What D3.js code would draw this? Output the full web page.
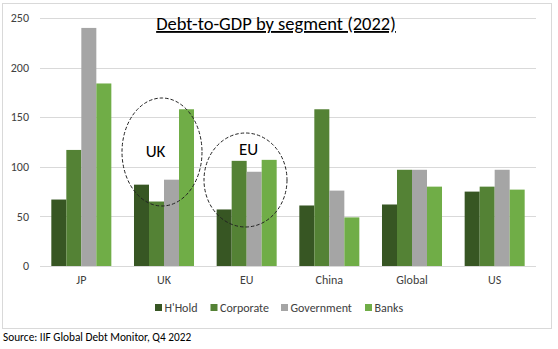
<!DOCTYPE html>
<html>
<head>
<meta charset="utf-8">
<script src="https://cdn.jsdelivr.net/npm/d3@7"></script>
<style>
  body { margin: 0; background: #fff; }
  svg { display: block; font-family: Calibri, Carlito, Lato, "Open Sans", sans-serif; }
</style>
</head>
<body>
<svg id="chart" width="558" height="349"></svg>
<script>
// debt-to-GDP ratios, % of GDP
const regions = ["JP", "UK", "EU", "China", "Global", "US"];
const segments = ["H'Hold", "Corporate", "Government", "Banks"];
const hhold = [67, 82, 57, 61, 62, 75];
const corporate = [117, 65, 106, 158, 97, 80];
const government = [240, 87, 95, 76, 97, 97];
const banks = [184, 158, 107, 49, 80, 77];
const yTicks = [0, 50, 100, 150, 200, 250];
const colors = ["#375623", "#548235", "#a5a5a5", "#70ad47"];

const series = [hhold, corporate, government, banks];

const svg = d3.select("#chart");

// outer frame
svg.append("rect")
  .attr("x", 2.5).attr("y", 3.5)
  .attr("width", 549).attr("height", 325)
  .attr("fill", "#fff")
  .attr("stroke", "#d9d9d9");

const plotLeft = 40, plotRight = 536, plotTop = 18, plotBottom = 266;

const x0 = d3.scaleBand().domain(regions).range([plotLeft, plotRight]);
const gap = x0.bandwidth() * 0.137;
const x1 = d3.scaleBand().domain(d3.range(4)).range([gap, x0.bandwidth() - gap]);
const y = d3.scaleLinear().domain([0, 250]).range([plotBottom, plotTop]);

// gridlines
svg.append("g")
  .selectAll("line")
  .data(yTicks)
  .join("line")
    .attr("x1", plotLeft).attr("x2", plotRight)
    .attr("y1", d => Math.round(y(d)) + 0.5)
    .attr("y2", d => Math.round(y(d)) + 0.5)
    .attr("stroke", "#d9d9d9")
    .attr("stroke-width", 1);

// y labels
svg.append("g")
  .selectAll("text")
  .data(yTicks)
  .join("text")
    .attr("x", 29)
    .attr("y", d => y(d))
    .attr("dy", "0.35em")
    .attr("text-anchor", "end")
    .attr("font-size", 12)
    .attr("fill", "#404040")
    .text(d => d);

// bars
const groups = svg.append("g")
  .selectAll("g")
  .data(regions)
  .join("g")
    .attr("transform", d => `translate(${x0(d)},0)`);

groups.selectAll("rect")
  .data((d, i) => series.map((s, k) => ({ k, v: s[i] })))
  .join("rect")
    .attr("x", d => x1(d.k))
    .attr("width", x1.bandwidth())
    .attr("y", d => y(d.v))
    .attr("height", d => y(0) - y(d.v))
    .attr("fill", d => colors[d.k]);

// category labels
svg.append("g")
  .selectAll("text")
  .data(regions)
  .join("text")
    .attr("x", d => x0(d) + x0.bandwidth() / 2)
    .attr("y", 284)
    .attr("text-anchor", "middle")
    .attr("font-size", 12)
    .attr("fill", "#404040")
    .text(d => d);

// title
svg.append("text")
  .attr("x", 276)
  .attr("y", 30)
  .attr("text-anchor", "middle")
  .attr("font-size", 18.5)
  .attr("text-decoration", "underline")
  .attr("fill", "#000")
  .text("Debt-to-GDP by segment (2022)");

// callout ellipses
const callouts = [
  { label: "UK", cx: 162, cy: 152, rx: 40, ry: 54, tx: 155.5, ty: 157 },
  { label: "EU", cx: 245.5, cy: 180, rx: 41.5, ry: 47, tx: 248.5, ty: 155 }
];
svg.append("g")
  .selectAll("ellipse")
  .data(callouts)
  .join("ellipse")
    .attr("cx", d => d.cx).attr("cy", d => d.cy)
    .attr("rx", d => d.rx).attr("ry", d => d.ry)
    .attr("fill", "none")
    .attr("stroke", "#222")
    .attr("stroke-width", 1)
    .attr("stroke-dasharray", "3.5,2");
svg.append("g")
  .selectAll("text")
  .data(callouts)
  .join("text")
    .attr("x", d => d.tx).attr("y", d => d.ty)
    .attr("text-anchor", "middle")
    .attr("font-size", 17)
    .attr("fill", "#000")
    .text(d => d.label);

// legend
const legendX = [155, 210.5, 281, 365];
const legend = svg.append("g")
  .selectAll("g")
  .data(segments)
  .join("g")
    .attr("transform", (d, i) => `translate(${legendX[i]},304)`);
legend.append("rect")
  .attr("width", 7).attr("height", 7)
  .attr("fill", (d, i) => colors[i]);
legend.append("text")
  .attr("x", 9.5).attr("y", 3.5)
  .attr("dy", "0.35em")
  .attr("font-size", 12)
  .attr("fill", "#404040")
  .text(d => d);

// source note
svg.append("text")
  .attr("x", 3)
  .attr("y", 341)
  .attr("font-size", 11.3)
  .attr("fill", "#000")
  .text("Source: IIF Global Debt Monitor, Q4 2022");
</script>
</body>
</html>
